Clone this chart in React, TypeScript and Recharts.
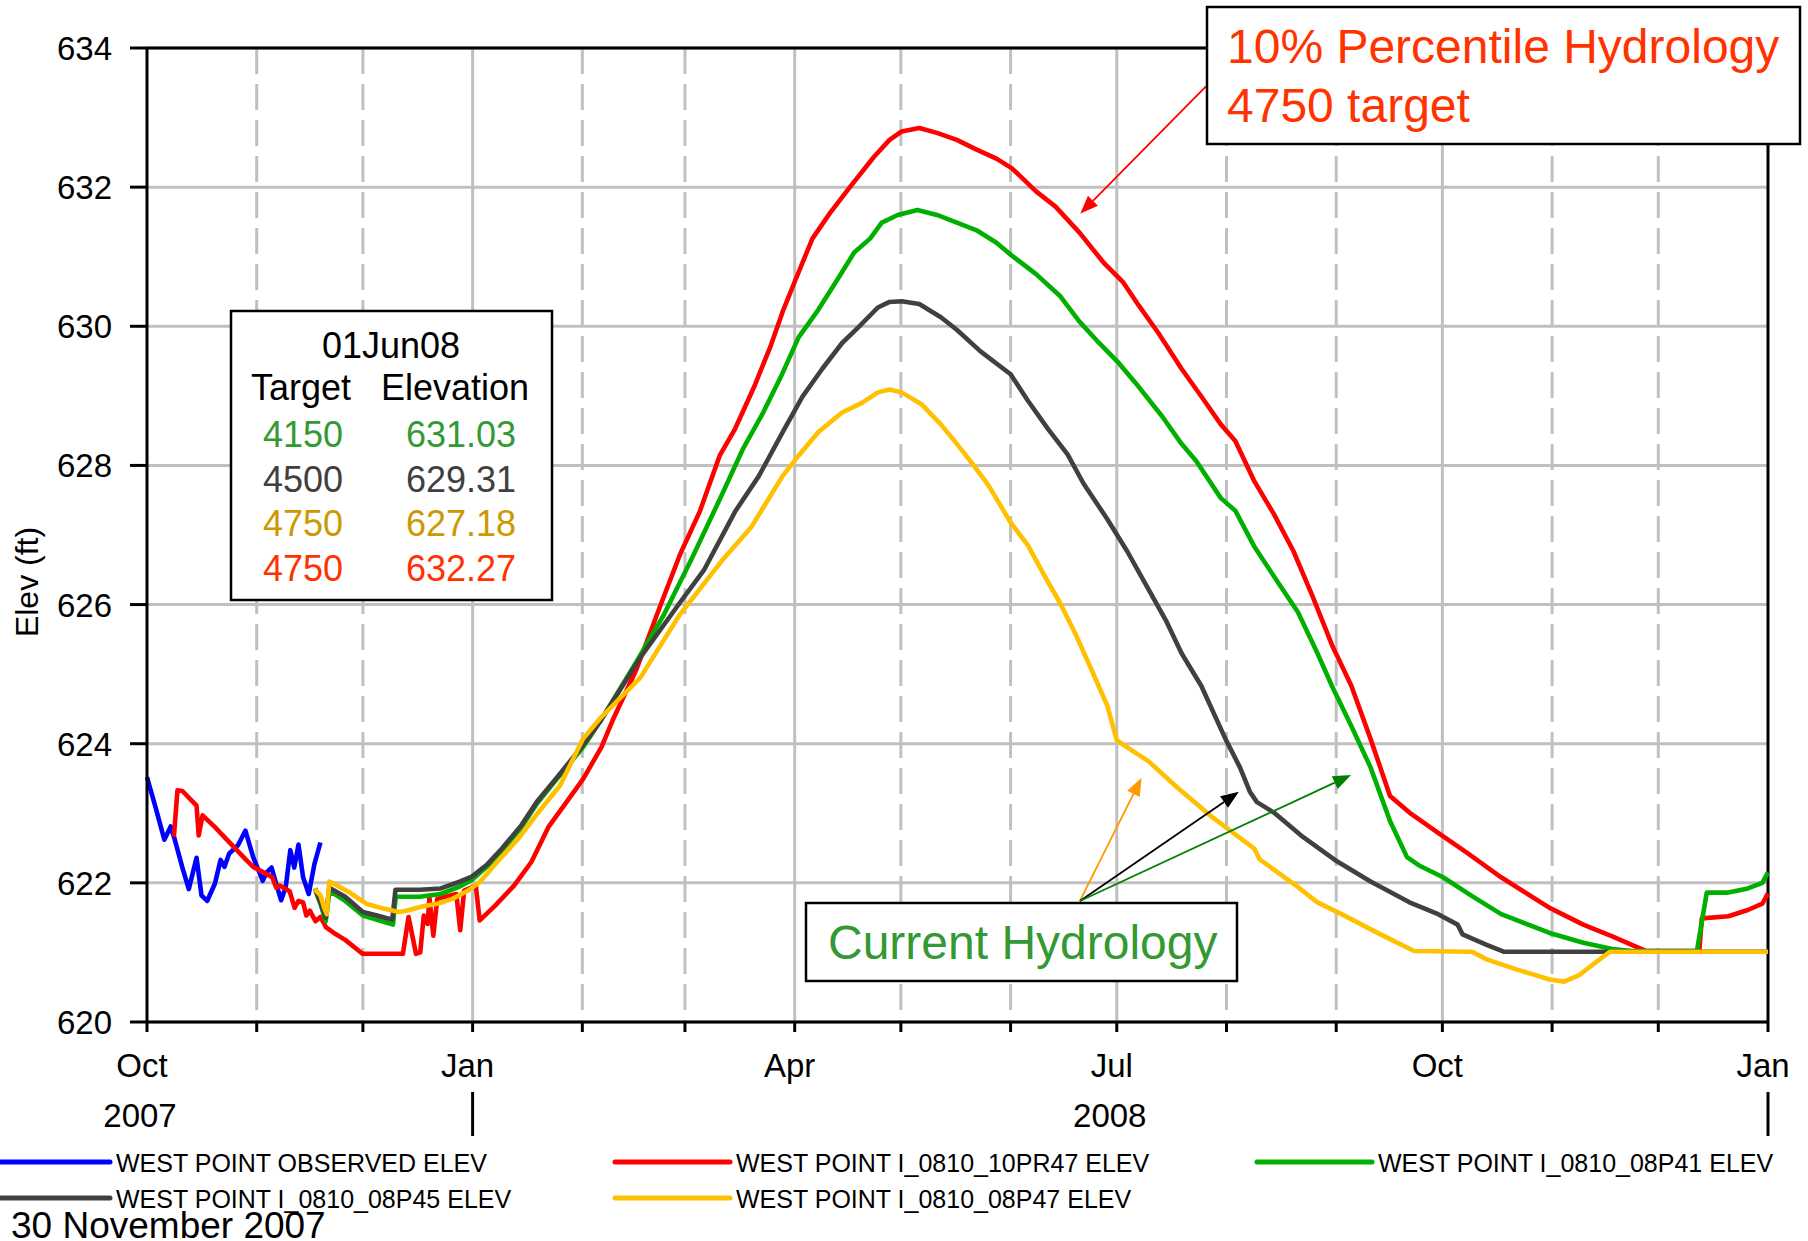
import React from "react";
import {
  LineChart,
  Line,
  XAxis,
  YAxis,
  CartesianGrid,
  ReferenceLine,
  Legend,
} from "recharts";

// x values are days counted from 1 Oct 2007
const monthDays = [0, 31, 61, 92, 123, 152, 183, 213, 244, 274, 305, 336, 366, 397, 427, 458];
const quarterDays = [92, 183, 274, 366];
const otherMonthDays = [31, 61, 123, 152, 213, 244, 305, 336, 397, 427];
const quarterLabels: Record<number, string> = { 0: "Oct", 92: "Jan", 183: "Apr", 274: "Jul", 366: "Oct", 458: "Jan" };
const yearLabels: Record<number, string> = { 0: "2007", 274: "2008" };
const yearBreaks = [92, 458];
const elevTicks = [620, 622, 624, 626, 628, 630, 632, 634];

const observedElev: [number, number][] = [
  [0, 623.52], [2.4, 623.09], [4.9, 622.62], [6.7, 622.81], [7.8, 622.63], [10, 622.22],
  [11.8, 621.91], [14, 622.36], [15.4, 621.82], [17, 621.74], [19.2, 621.99], [20.8, 622.33],
  [21.9, 622.23], [23.2, 622.42], [25.7, 622.54], [27.8, 622.75], [30, 622.37], [32.7, 622.03],
  [33.8, 622.15], [35.2, 622.22], [36.5, 621.99], [37.9, 621.75], [39.2, 621.94], [40.5, 622.47],
  [41.6, 622.22], [42.8, 622.55], [44.1, 622.08], [45.7, 621.84], [47.3, 622.27], [49, 622.58],
];

const pr47Elev10: [number, number][] = [
  [7.6, 622.66], [8.6, 623.33], [10, 623.32], [14, 623.11], [14.6, 622.68], [15.7, 622.97],
  [19.2, 622.8], [23.5, 622.57], [27.8, 622.34], [30, 622.23], [33.3, 622.14], [35.4, 622.08],
  [36.5, 621.93], [37.6, 621.96], [40.3, 621.88], [41.7, 621.64], [42.8, 621.74], [44.1, 621.72],
  [45, 621.53], [46, 621.6], [47.6, 621.45], [49, 621.51], [50.6, 621.36], [52.8, 621.28],
  [56, 621.18], [60.9, 620.98], [72.3, 620.98], [73.9, 621.51], [76, 620.98], [77.2, 621.0],
  [78.2, 621.53], [79.3, 621.41], [79.8, 621.79], [80.9, 621.24], [82, 621.77], [87.4, 621.84],
  [88.5, 621.32], [89.6, 621.89], [92.9, 621.96], [94, 621.46], [98.3, 621.67], [103.7, 621.96],
  [108.6, 622.3], [113.4, 622.8], [117.8, 623.11], [123.2, 623.49], [128.4, 623.95], [131.6, 624.34],
  [138.3, 625.07], [145, 625.98], [150.6, 626.72], [156.2, 627.34], [161.8, 628.14], [166.2, 628.53],
  [171.8, 629.16], [176.3, 629.73], [179.6, 630.21], [183, 630.64], [188, 631.26], [193, 631.63],
  [198.6, 632.0], [205.3, 632.43], [209.8, 632.68], [213.2, 632.8], [218.2, 632.85], [223.2, 632.78],
  [228.8, 632.68], [234.4, 632.54], [240, 632.41], [244.4, 632.27], [251.2, 631.94], [256.7, 631.72],
  [263.4, 631.35], [270.2, 630.92], [275.7, 630.64], [280.2, 630.3], [285.8, 629.9], [292.3, 629.39],
  [298.6, 628.94], [303.4, 628.59], [307.5, 628.35], [312.9, 627.77], [318.4, 627.3], [323.9, 626.77],
  [329.3, 626.12], [334.8, 625.42], [340.3, 624.83], [345.7, 624.07], [351.2, 623.25], [356.7, 623.01],
  [364.8, 622.72], [373, 622.43], [382.6, 622.08], [396.3, 621.64], [405.8, 621.4], [414, 621.23],
  [423.6, 621.02], [438.6, 621.02], [439.3, 621.49], [446.8, 621.52], [452.3, 621.61], [456.4, 621.7],
  [458, 621.85],
];

const p41Elev: [number, number][] = [
  [47.5, 621.9], [49, 621.7], [50.5, 621.45], [51.5, 621.86], [53, 621.84], [56, 621.74],
  [61, 621.53], [65, 621.47], [69.5, 621.4], [70.3, 621.8], [77, 621.8], [83, 621.84],
  [88.5, 621.95], [92, 622.05], [96, 622.23], [100.4, 622.47], [105.8, 622.8], [110.2, 623.14],
  [115.6, 623.48], [123.2, 623.95], [128.3, 624.34], [138.3, 625.18], [146.1, 625.86], [153.9, 626.66],
  [161.8, 627.51], [168.5, 628.25], [174.1, 628.76], [179.6, 629.33], [184.1, 629.84], [189.7, 630.24],
  [195.3, 630.69], [199.8, 631.06], [204.3, 631.26], [207.6, 631.49], [212.1, 631.6], [217.7, 631.67],
  [223.2, 631.6], [228.8, 631.49], [234.4, 631.38], [240, 631.2], [244, 631.03], [251.2, 630.75],
  [257.9, 630.44], [263.4, 630.07], [269, 629.76], [274.6, 629.47], [280.2, 629.13], [286.9, 628.7],
  [292.3, 628.31], [296.5, 628.06], [303.4, 627.53], [307.5, 627.35], [312.9, 626.83], [319.8, 626.3],
  [325.2, 625.89], [330.7, 625.3], [334.8, 624.83], [340.3, 624.25], [345.7, 623.66], [351.2, 622.89],
  [356, 622.37], [359.4, 622.25], [366.2, 622.08], [374.4, 621.81], [382.6, 621.55], [396.3, 621.28],
  [405.8, 621.14], [414, 621.05], [419.5, 621.02], [437.9, 621.02], [440.7, 621.86], [446.8, 621.86],
  [452.3, 621.92], [456.4, 622.0], [458, 622.15],
];

const p45Elev: [number, number][] = [
  [47.5, 621.92], [49, 621.72], [50.5, 621.5], [51.5, 621.93], [56, 621.8], [61, 621.58],
  [65, 621.53], [69.3, 621.47], [70.2, 621.9], [77, 621.9], [83, 621.92], [88.5, 622.02],
  [91.8, 622.09], [96, 622.26], [100.4, 622.5], [105.8, 622.83], [110.2, 623.17], [115.6, 623.5],
  [123.2, 623.98], [128.3, 624.34], [139.4, 625.24], [150.6, 626.03], [157.3, 626.49], [166.2, 627.34],
  [172.9, 627.85], [179.6, 628.48], [185.2, 628.99], [190.8, 629.39], [196.4, 629.76], [200.9, 629.98],
  [206.5, 630.27], [209.8, 630.35], [213.2, 630.36], [218.2, 630.32], [224.3, 630.13], [228.8, 629.95],
  [235.5, 629.64], [244, 629.31], [248.9, 628.93], [254.5, 628.53], [260.1, 628.16], [264.6, 627.74],
  [271.3, 627.23], [276.9, 626.77], [282.5, 626.26], [288.1, 625.75], [292.3, 625.3], [297.9, 624.83],
  [304.7, 624.07], [308.8, 623.66], [311.6, 623.31], [313.6, 623.16], [318.4, 623.01], [326.6, 622.66],
  [336.2, 622.31], [345.7, 622.02], [356.7, 621.72], [364.8, 621.55], [370.3, 621.4], [371.7, 621.26],
  [378.5, 621.11], [383.3, 621.01], [458, 621.01],
];

const p47Elev: [number, number][] = [
  [47.3, 621.91], [49, 621.82], [50, 621.65], [50.8, 621.55], [51.5, 622.02], [53.8, 621.96],
  [57, 621.87], [62, 621.7], [66.8, 621.63], [71.2, 621.58], [73.3, 621.6], [77.7, 621.66],
  [82, 621.7], [86.3, 621.77], [90.7, 621.89], [94, 622.01], [99.3, 622.32], [104.8, 622.63],
  [110.2, 622.99], [116.7, 623.4], [123.2, 624.07], [128.3, 624.38], [139.4, 624.95], [150.6, 625.86],
  [162.9, 626.66], [170.7, 627.11], [179.6, 627.85], [184.1, 628.14], [189.7, 628.48], [196.4, 628.76],
  [202, 628.9], [206.5, 629.05], [209.8, 629.09], [213.2, 629.05], [218.8, 628.88], [224.3, 628.59],
  [228.8, 628.31], [233.3, 628.02], [237.8, 627.71], [244, 627.18], [248.9, 626.85], [253.4, 626.43],
  [257.9, 626.03], [262.3, 625.58], [266.8, 625.07], [271.3, 624.55], [274, 624.05], [276, 623.98],
  [282.9, 623.75], [291.1, 623.37], [300.6, 622.96], [312.9, 622.49], [314.3, 622.34], [323.9, 621.99],
  [330.7, 621.72], [337.5, 621.55], [348.5, 621.26], [358, 621.02], [374.4, 621.01], [378.5, 620.9],
  [386.7, 620.76], [396.3, 620.61], [400.4, 620.58], [404.5, 620.67], [413.3, 621.01], [458, 621.01],
];

const seriesNames = [
  "WEST POINT OBSERVED ELEV",
  "WEST POINT I_0810_10PR47 ELEV",
  "WEST POINT I_0810_08P41 ELEV",
  "WEST POINT I_0810_08P45 ELEV",
  "WEST POINT I_0810_08P47 ELEV",
];
const seriesValues = [observedElev, pr47Elev10, p41Elev, p45Elev, p47Elev];
const seriesColors = ["#0000ff", "#ff0000", "#00b000", "#404040", "#ffc000"];

// 01Jun08 summary table
const tableTargets = ["4150", "4500", "4750", "4750"];
const tableElevations = ["631.03", "629.31", "627.18", "632.27"];
const tableColors = ["#339933", "#404040", "#cc9900", "#ff3300"];

// annotation arrows, [day, elev]
const arrowFrom: [number, number][] = [[299.2, 633.45], [263.6, 621.74], [263.6, 621.74], [263.6, 621.74]];
const arrowTo: [number, number][] = [[263.7, 631.62], [281, 623.51], [308.5, 623.31], [340.2, 623.55]];
const arrowColors = ["#ff0000", "#ff9900", "#000000", "#008000"];

const FONT = "'Liberation Sans', Arial, sans-serif";

const toPoints = (arr: [number, number][]) => arr.map(([day, elev]) => ({ day, elev }));

// legend layout: row and x positions of each entry
const legendSlots: Record<string, { x1: number; x2: number; tx: number; row: number }> = {
  "WEST POINT OBSERVED ELEV": { x1: 0, x2: 110, tx: 116, row: 0 },
  "WEST POINT I_0810_10PR47 ELEV": { x1: 615, x2: 730, tx: 736, row: 0 },
  "WEST POINT I_0810_08P41 ELEV": { x1: 1257, x2: 1372, tx: 1378, row: 0 },
  "WEST POINT I_0810_08P45 ELEV": { x1: 0, x2: 110, tx: 116, row: 1 },
  "WEST POINT I_0810_08P47 ELEV": { x1: 615, x2: 730, tx: 736, row: 1 },
};

const renderLegend = (props: any) => {
  const payload = props.payload || [];
  return (
    <svg width={1808} height={100} style={{ display: "block", fontFamily: FONT }}>
      {payload.map((entry: any) => {
        const slot = legendSlots[entry.value];
        if (!slot) return null;
        const ly = 22 + slot.row * 36;
        return (
          <g key={entry.value}>
            <line x1={slot.x1} x2={slot.x2} y1={ly} y2={ly} stroke={entry.color} strokeWidth={5} strokeLinecap="round" />
            <text x={slot.tx} y={ly + 9.5} fontSize={25} fill="#000">
              {entry.value}
            </text>
          </g>
        );
      })}
    </svg>
  );
};

const YTick = (props: any) => (
  <text x={props.x} y={props.y} dy={12} textAnchor="end" fontSize={33} fontFamily={FONT} fill="#000">
    {props.payload.value}
  </text>
);

const XTick = (props: any) => {
  const v = props.payload.value;
  const { x, y } = props;
  return (
    <g fontFamily={FONT}>
      {quarterLabels[v] && (
        <text x={x - 5} y={y + 43} textAnchor="middle" fontSize={33} fill="#000">
          {quarterLabels[v]}
        </text>
      )}
      {yearLabels[v] && (
        <text x={x - 7} y={y + 93} textAnchor="middle" fontSize={33} fill="#000">
          {yearLabels[v]}
        </text>
      )}
      {yearBreaks.includes(v) && <line x1={x} x2={x} y1={y + 58} y2={y + 102} stroke="#000" strokeWidth={3} />}
    </g>
  );
};

const arrowShape = (color: string) => (props: any) => {
  const x1 = Number(props.x1);
  const y1 = Number(props.y1);
  const x2 = Number(props.x2);
  const y2 = Number(props.y2);
  const ang = Math.atan2(y2 - y1, x2 - x1);
  const head = 18;
  const half = 7;
  const bx = x2 - head * Math.cos(ang);
  const by = y2 - head * Math.sin(ang);
  const px = Math.sin(ang) * half;
  const py = Math.cos(ang) * half;
  return (
    <g>
      <line x1={x1} y1={y1} x2={bx} y2={by} stroke={color} strokeWidth={1.8} />
      <polygon points={`${x2},${y2} ${bx + px},${by - py} ${bx - px},${by + py}`} fill={color} />
    </g>
  );
};

export default function App() {
  return (
    <div style={{ position: "absolute", left: 0, top: 0, width: 1808, height: 1241, background: "#fff", fontFamily: FONT }}>
      <LineChart width={1808} height={1241} margin={{ top: 48, right: 40, left: 0, bottom: 0 }}>
        <CartesianGrid stroke="#c0c0c0" strokeWidth={3} verticalValues={quarterDays} />
        <CartesianGrid stroke="#c0c0c0" strokeWidth={3} strokeDasharray="26 10" horizontal={false} verticalValues={otherMonthDays} />
        <XAxis
          type="number"
          dataKey="day"
          domain={[0, 458]}
          ticks={monthDays}
          interval={0}
          height={219}
          tickSize={10}
          tickMargin={2}
          axisLine={{ stroke: "#000", strokeWidth: 3 }}
          tickLine={{ stroke: "#000", strokeWidth: 3 }}
          tick={<XTick />}
        />
        <YAxis
          type="number"
          domain={[620, 634]}
          ticks={elevTicks}
          interval={0}
          width={147}
          tickSize={17}
          tickMargin={18}
          axisLine={{ stroke: "#000", strokeWidth: 3 }}
          tickLine={{ stroke: "#000", strokeWidth: 3 }}
          tick={<YTick />}
        />
        <ReferenceLine y={634} stroke="#000" strokeWidth={3} />
        <ReferenceLine x={458} stroke="#000" strokeWidth={3} />
        {seriesNames.map((name, i) => (
          <Line
            key={name}
            data={toPoints(seriesValues[i])}
            dataKey="elev"
            name={name}
            type="linear"
            stroke={seriesColors[i]}
            strokeWidth={4.6}
            strokeLinejoin="round"
            dot={false}
            activeDot={false}
            isAnimationActive={false}
          />
        ))}
        {arrowFrom.map((from, i) => (
          <ReferenceLine
            key={"arrow" + i}
            segment={[
              { x: from[0], y: from[1] },
              { x: arrowTo[i][0], y: arrowTo[i][1] },
            ]}
            ifOverflow="visible"
            stroke={arrowColors[i]}
            shape={arrowShape(arrowColors[i])}
          />
        ))}
        <Legend
          layout="horizontal"
          verticalAlign="middle"
          align="center"
          wrapperStyle={{ left: 0, top: 1140, width: 1808, height: 100 }}
          content={renderLegend}
        />
      </LineChart>
      <svg
        width={1808}
        height={1241}
        style={{ position: "absolute", left: 0, top: 0, pointerEvents: "none", fontFamily: FONT }}
      >
        <text transform="translate(38,582) rotate(-90)" textAnchor="middle" fontSize={32} fill="#000">
          Elev (ft)
        </text>
        {/* 10% percentile note */}
        <rect x={1207} y={7} width={593} height={137} fill="#fff" stroke="#000" strokeWidth={2.5} />
        <text x={1227} y={63} fontSize={48} fill="#ff3300">10% Percentile Hydrology</text>
        <text x={1227} y={122} fontSize={48} fill="#ff3300">4750 target</text>
        {/* 01Jun08 table */}
        <rect x={231} y={311} width={321} height={289} fill="#fff" stroke="#000" strokeWidth={2.5} />
        <text x={391} y={358} textAnchor="middle" fontSize={36} fill="#000">01Jun08</text>
        <text x={251} y={400} fontSize={36} fill="#000">Target</text>
        <text x={381} y={400} fontSize={36} fill="#000">Elevation</text>
        {tableTargets.map((t, i) => (
          <g key={"row" + i}>
            <text x={263} y={447 + i * 44.7} fontSize={36} fill={tableColors[i]}>{t}</text>
            <text x={406} y={447 + i * 44.7} fontSize={36} fill={tableColors[i]}>{tableElevations[i]}</text>
          </g>
        ))}
        {/* current hydrology note */}
        <rect x={806} y={903} width={431} height={78} fill="#fff" stroke="#000" strokeWidth={2.5} />
        <text x={828} y={959} fontSize={48} fill="#339933">Current Hydrology</text>
        <text x={11} y={1238} fontSize={37} fill="#000">30 November 2007</text>
      </svg>
    </div>
  );
}
